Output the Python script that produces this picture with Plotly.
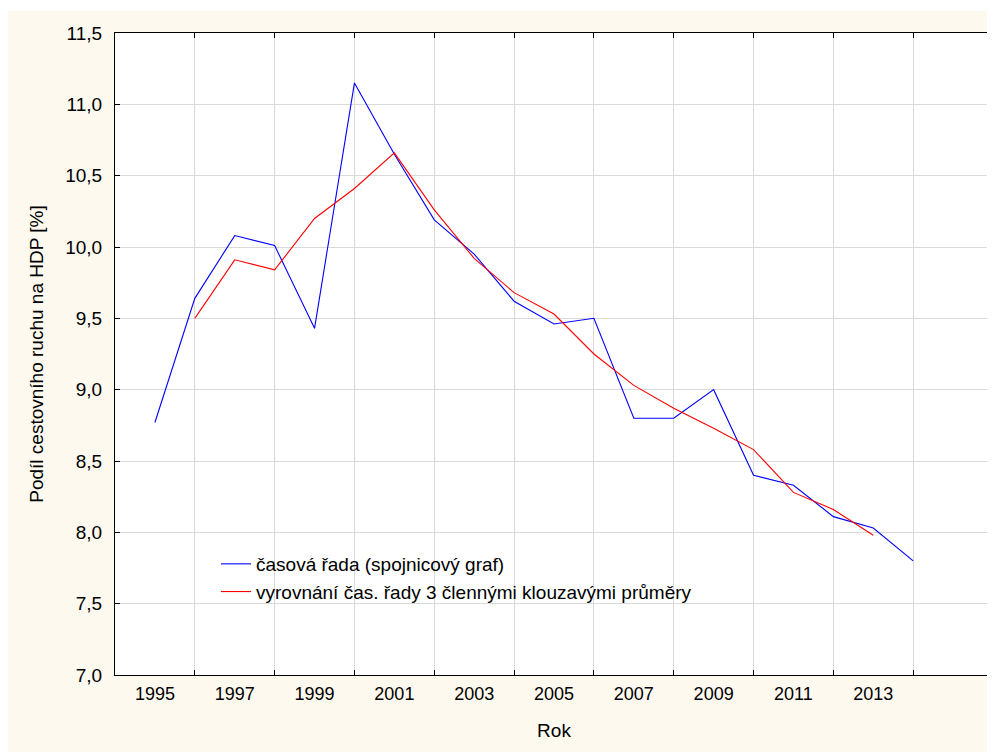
import plotly.graph_objects as go

# roky a hodnoty
years = list(range(1995, 2015))
share = [8.77, 9.64, 10.08, 10.01, 9.43, 11.15, 10.65, 10.19, 9.95, 9.62,
         9.46, 9.50, 8.80, 8.80, 9.00, 8.40, 8.33, 8.11, 8.03, 7.80]

ma_years = list(range(1996, 2014))
ma_share = [9.50, 9.91, 9.84, 10.20, 10.41, 10.66, 10.26, 9.92, 9.68,
            9.53, 9.25, 9.03, 8.87, 8.73, 8.58, 8.28, 8.16, 7.98]

grid_years = list(range(1996, 2015, 2))
label_years = list(range(1995, 2014, 2))

FONT = "Liberation Sans, Arial, sans-serif"
CREAM = "#FDF9EF"

# stránka má okraj 8 px, graf tedy začíná na (8, 8)
W, H = 987, 744
L, R, T, B = 107, 2, 25, 77
pw, ph = W - L - R, H - T - B

fig = go.Figure()
fig.add_trace(
    go.Scatter(
        x=years, y=share, mode="lines",
        line=dict(color="#0000FF", width=1.1),
        name="časová řada (spojnicový graf)",
    )
)
fig.add_trace(
    go.Scatter(
        x=ma_years, y=ma_share, mode="lines",
        line=dict(color="#FF0000", width=1.1),
        name="vyrovnání čas. řady 3 člennými klouzavými průměry",
    )
)
# pomocná stopa jen pro popisky osy x (liché roky)
fig.add_trace(
    go.Scatter(x=[1994, 2016], y=[7, 7], xaxis="x2", mode="lines",
               line=dict(width=0), showlegend=False, hoverinfo="skip")
)

# tenký bílý pruh nahoře
fig.add_shape(type="rect", xref="paper", yref="paper", layer="above",
              x0=-L / pw - 0.01, x1=1 + R / pw + 0.01, y0=1 + (T - 3) / ph, y1=1 + T / ph + 0.01,
              fillcolor="white", line_width=0)

fig.update_layout(
    width=W, height=H,
    margin=dict(l=L, r=R, t=T, b=B),
    paper_bgcolor=CREAM,
    plot_bgcolor="white",
    separators=", ",
    font=dict(family=FONT, size=18, color="black"),
    showlegend=True,
    legend=dict(
        x=(208 - L) / pw, y=(667 - 537) / ph, xanchor="left", yanchor="top",
        bgcolor="rgba(0,0,0,0)", font=dict(size=19),
        tracegroupgap=0,
    ),
    xaxis=dict(
        range=[1994, 2016], tickmode="array", tickvals=grid_years,
        showticklabels=False, ticks="inside", ticklen=5, tickcolor="black",
        showgrid=True, gridcolor="#D9D9D9", gridwidth=1,
        showline=True, linecolor="black", linewidth=1, mirror="ticks",
        zeroline=False,
    ),
    xaxis2=dict(
        range=[1994, 2016], overlaying="x", side="bottom", anchor="y",
        tickmode="array", tickvals=label_years, ticktext=[str(v) for v in label_years],
        showgrid=False, ticks="", ticklabelstandoff=6, zeroline=False,
        tickfont=dict(size=18),
        title=dict(text="Rok", font=dict(size=19), standoff=20),
    ),
    yaxis=dict(
        range=[7, 11.5], tickmode="linear", tick0=7, dtick=0.5, tickformat=".1f",
        ticks="inside", ticklen=5, tickcolor="black", ticklabelstandoff=8,
        showgrid=True, gridcolor="#D9D9D9", gridwidth=1,
        showline=True, linecolor="black", linewidth=1, mirror="ticks",
        zeroline=False, tickfont=dict(size=19),
        title=dict(text="Podíl cestovního ruchu na HDP [%]", font=dict(size=19), standoff=16),
    ),
)

fig.write_html("out.html")
